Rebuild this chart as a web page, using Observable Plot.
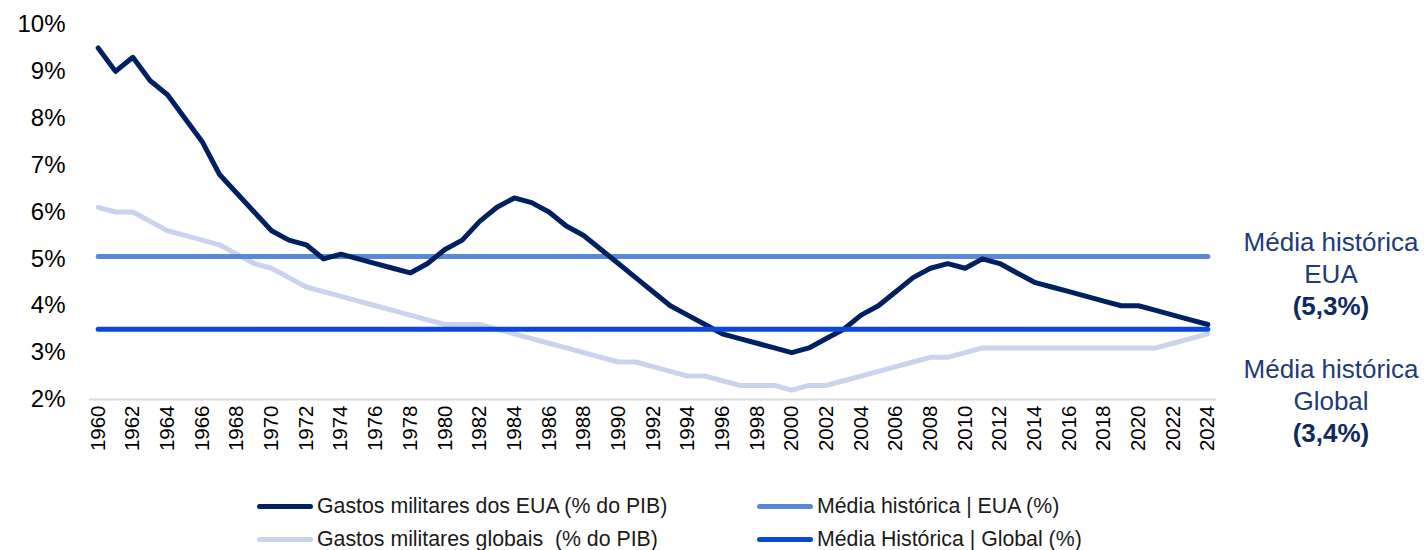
<!DOCTYPE html>
<html>
<head>
<meta charset="utf-8">
<script src="https://cdn.jsdelivr.net/npm/d3@7"></script>
<script src="https://cdn.jsdelivr.net/npm/@observablehq/plot@0.6"></script>
<style>
  html, body { margin: 0; padding: 0; background: #fff; }
  body { width: 1424px; height: 550px; position: relative; overflow: hidden; font-family: "Liberation Sans", Arial, sans-serif; }
  #chart { position: absolute; left: 0; top: 0; }
  .legend-item { position: absolute; display: flex; align-items: center; font-size: 21.3px; color: #1a1a1a; white-space: pre; }
  .legend-item .sw { width: 56px; height: 5px; border-radius: 3px; margin-right: 4px; }
  .note { position: absolute; width: 220px; text-align: center; font-size: 26px; line-height: 32px; color: #1f3a78; }
  .note b { color: #0f2a60; }
</style>
</head>
<body>
<div id="chart"></div>
<div id="legend"></div>
<div id="notes"></div>
<script>
const years = d3.range(1960, 2025);
const usSpending = [
  9.5, 9.0, 9.3, 8.8, 8.5, 8.0, 7.5, 6.8, 6.4, 6.0,
  5.6, 5.4, 5.3, 5.0, 5.1, 5.0, 4.9, 4.8, 4.7, 4.9,
  5.2, 5.4, 5.8, 6.1, 6.3, 6.2, 6.0, 5.7, 5.5, 5.2,
  4.9, 4.6, 4.3, 4.0, 3.8, 3.6, 3.4, 3.3, 3.2, 3.1,
  3.0, 3.1, 3.3, 3.5, 3.8, 4.0, 4.3, 4.6, 4.8, 4.9,
  4.8, 5.0, 4.9, 4.7, 4.5, 4.4, 4.3, 4.2, 4.1, 4.0,
  4.0, 3.9, 3.8, 3.7, 3.6
];
const globalSpending = [
  6.1, 6.0, 6.0, 5.8, 5.6, 5.5, 5.4, 5.3, 5.1, 4.9,
  4.8, 4.6, 4.4, 4.3, 4.2, 4.1, 4.0, 3.9, 3.8, 3.7,
  3.6, 3.6, 3.6, 3.5, 3.4, 3.3, 3.2, 3.1, 3.0, 2.9,
  2.8, 2.8, 2.7, 2.6, 2.5, 2.5, 2.4, 2.3, 2.3, 2.3,
  2.2, 2.3, 2.3, 2.4, 2.5, 2.6, 2.7, 2.8, 2.9, 2.9,
  3.0, 3.1, 3.1, 3.1, 3.1, 3.1, 3.1, 3.1, 3.1, 3.1,
  3.1, 3.1, 3.2, 3.3, 3.4
];
const avgUS = 5.05;
const avgGlobal = 3.5;
const avgUSLabel = "5,3%";
const avgGlobalLabel = "3,4%";
const yTicks = [2, 3, 4, 5, 6, 7, 8, 9, 10];
const xTicks = years.filter(y => y % 2 === 0);

const seriesNames = {
  us: "Gastos militares dos EUA (% do PIB)",
  global: "Gastos militares globais  (% do PIB)",
  avgUS: "Média histórica | EUA (%)",
  avgGlobal: "Média Histórica | Global (%)"
};
const colors = { us: "#002060", global: "#c9d3ec", avgUS: "#5b87d6", avgGlobal: "#0b48da" };

const usData = years.map((y, i) => ({ year: y, v: usSpending[i] }));
const globalData = years.map((y, i) => ({ year: y, v: globalSpending[i] }));
const avgUSData = years.map(y => ({ year: y, v: avgUS }));
const avgGlobalData = years.map(y => ({ year: y, v: avgGlobal }));

const chart = Plot.plot({
  width: 1424,
  height: 465,
  marginLeft: 89,
  marginRight: 208,
  marginTop: 24,
  marginBottom: 66,
  style: { fontFamily: "'Liberation Sans', Arial, sans-serif", color: "#000", background: "transparent" },
  x: { domain: [1959.5, 2024.5] },
  y: { domain: [2, 10] },
  marks: [
    Plot.ruleY([2], { stroke: "#d9d9d9", strokeWidth: 2 }),
    Plot.axisY({ ticks: yTicks, tickSize: 0, tickPadding: 24, tickFormat: d => d + "%", fontSize: 24, label: null }),
    Plot.axisX({ ticks: xTicks, tickSize: 0, tickPadding: 6, tickFormat: d => String(d), tickRotate: -90, fontSize: 20.5, label: null }),
    Plot.line(globalData, { x: "year", y: "v", stroke: colors.global, strokeWidth: 5, strokeLinejoin: "round", strokeLinecap: "round" }),
    Plot.line(avgUSData, { x: "year", y: "v", stroke: colors.avgUS, strokeWidth: 5, strokeLinecap: "round" }),
    Plot.line(usData, { x: "year", y: "v", stroke: colors.us, strokeWidth: 5, strokeLinejoin: "round", strokeLinecap: "round" }),
    Plot.line(avgGlobalData, { x: "year", y: "v", stroke: colors.avgGlobal, strokeWidth: 5, strokeLinecap: "round" })
  ]
});
document.getElementById("chart").appendChild(chart);

// Legend
const legendItems = [
  { key: "us", left: 257, top: 506 },
  { key: "avgUS", left: 757, top: 506 },
  { key: "global", left: 257, top: 539 },
  { key: "avgGlobal", left: 757, top: 539 }
];
const legend = document.getElementById("legend");
legendItems.forEach(it => {
  const d = document.createElement("div");
  d.className = "legend-item";
  d.style.left = it.left + "px";
  d.style.top = (it.top - 13) + "px";
  d.style.height = "26px";
  const sw = document.createElement("span");
  sw.className = "sw";
  sw.style.background = colors[it.key];
  const t = document.createElement("span");
  t.textContent = seriesNames[it.key];
  d.appendChild(sw); d.appendChild(t);
  legend.appendChild(d);
});

// Right-side annotations
const notes = document.getElementById("notes");
[
  { lines: ["Média histórica", "EUA"], value: avgUSLabel, top: 226 },
  { lines: ["Média histórica", "Global"], value: avgGlobalLabel, top: 353 }
].forEach(n => {
  const d = document.createElement("div");
  d.className = "note";
  d.style.left = (1331 - 110) + "px";
  d.style.top = n.top + "px";
  d.innerHTML = n.lines.join("<br>") + "<br><b>(" + n.value + ")</b>";
  notes.appendChild(d);
});
</script>
</body>
</html>
